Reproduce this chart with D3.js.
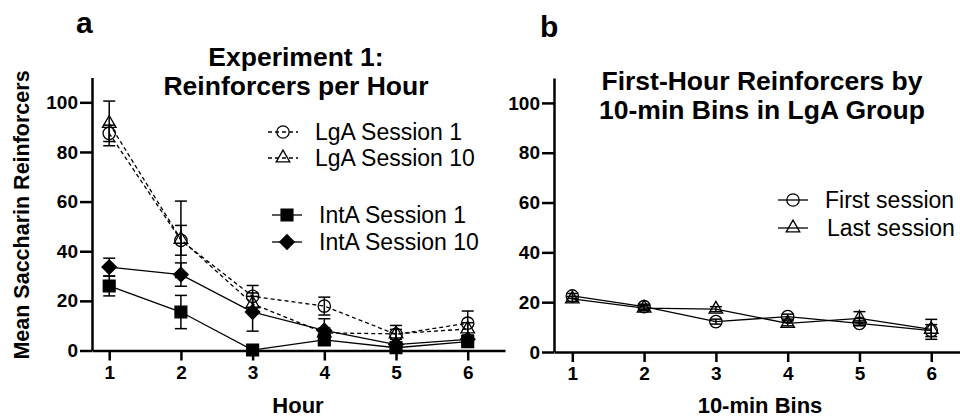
<!DOCTYPE html>
<html>
<head>
<meta charset="utf-8">
<script src="https://cdn.jsdelivr.net/npm/d3@7"></script>
<style>
body { margin: 0; background: #fff; }
text { font-family: "Liberation Sans", Arial, sans-serif; fill: #000; }
</style>
</head>
<body>
<div id="chart"></div>
<script>
var width = 960,
	height = 419;

// panel a: reinforcers per hour
var hours = [1, 2, 3, 4, 5, 6];
var lgaS1 = [87.5, 44.4, 21.8, 17.9, 6.5, 11.0];
var lgaS1Sem = [3.3, 6.0, 4.4, 3.6, 2.0, 4.9];
var lgaS10 = [91.5, 44.8, 18.8, 7.1, 6.7, 8.7];
var lgaS10Sem = [9.0, 15.4, 3.0, 2.0, 3.4, 2.5];
var intaS1 = [26.0, 15.5, 0.2, 4.3, 1.1, 3.6];
var intaS1Sem = [4.0, 6.7, 0.5, 1.5, 1.0, 1.5];
var intaS10 = [33.6, 30.6, 15.5, 8.1, 2.4, 4.5];
var intaS10Sem = [3.6, 4.7, 7.7, 4.7, 1.0, 1.5];

// panel b: first hour by 10-min bins
var bins = [1, 2, 3, 4, 5, 6];
var firstSession = [22.5, 18.2, 12.2, 14.2, 11.5, 8.6];
var firstSem = [1.0, 1.0, 1.0, 1.0, 1.0, 2.4];
var lastSession = [21.3, 17.6, 17.2, 11.5, 13.5, 9.1];
var lastSem = [1.0, 1.0, 1.0, 1.0, 2.7, 4.0];

var yTicks = [0, 20, 40, 60, 80, 100];

var svg = d3.select("#chart").append("svg")
	.attr("width", width)
	.attr("height", height);

var symbols = {
	circle: d3.symbol().type(d3.symbolCircle).size(120),
	square: d3.symbol().type(d3.symbolSquare).size(140),
	diamond: d3.symbol().type(d3.symbolSquare).size(105),
	triangle: d3.symbol().type(d3.symbolTriangle).size(80)
};

function drawPanel(cfg) {
	var x = d3.scaleLinear().domain(cfg.xDomain).range(cfg.xRange);
	var y = d3.scaleLinear().domain([0, 110]).range(cfg.yRange);
	var g = svg.append("g");

	var yAxis = g.append("g")
		.attr("transform", "translate(" + cfg.xRange[0] + ",0)")
		.call(d3.axisLeft(y).tickValues(yTicks).tickSize(12).tickSizeOuter(0).tickPadding(2));
	var xAxis = g.append("g")
		.attr("transform", "translate(0," + cfg.yRange[0] + ")")
		.call(d3.axisBottom(x).tickValues(cfg.xTicks).tickFormat(d3.format("d"))
			.tickSize(10).tickSizeOuter(0).tickPadding(5));
	[yAxis, xAxis].forEach(function(ax) {
		ax.select(".domain").attr("stroke-width", 2.5);
		ax.selectAll(".tick line").attr("stroke-width", 2.5);
		ax.selectAll(".tick text")
			.style("font-size", "19px")
			.style("font-weight", "bold");
	});

	cfg.series.forEach(function(s) {
		var pts = cfg.xTicks.map(function(v, i) { return { x: v, y: s.values[i], e: s.sem[i] }; });
		var line = d3.line().x(function(d) { return x(d.x); }).y(function(d) { return y(d.y); });
		g.append("path")
			.datum(pts)
			.attr("d", line)
			.attr("fill", "none")
			.attr("stroke", "#000")
			.attr("stroke-width", 1.3)
			.attr("stroke-dasharray", s.dashed ? "4,3" : null);

		// error bars
		var eb = g.selectAll(null).data(pts).enter().append("g").attr("stroke", "#000").attr("stroke-width", 1.5);
		eb.append("line")
			.attr("x1", function(d) { return x(d.x); })
			.attr("x2", function(d) { return x(d.x); })
			.attr("y1", function(d) { return y(Math.max(0, d.y - d.e)); })
			.attr("y2", function(d) { return y(d.y + d.e); });
		[1, -1].forEach(function(sign) {
			eb.append("line")
				.attr("x1", function(d) { return x(d.x) - 6; })
				.attr("x2", function(d) { return x(d.x) + 6; })
				.attr("y1", function(d) { return y(Math.max(0, d.y + sign * d.e)); })
				.attr("y2", function(d) { return y(Math.max(0, d.y + sign * d.e)); });
		});

		g.selectAll(null).data(pts).enter().append("path")
			.attr("d", symbols[s.shape])
			.attr("transform", function(d) {
				return "translate(" + x(d.x) + "," + y(d.y) + ")" + (s.shape === "diamond" ? " rotate(45)" : "");
			})
			.attr("fill", s.filled ? "#000" : "none")
			.attr("stroke", "#000")
			.attr("stroke-width", 1.3);
	});

	// legend
	cfg.series.forEach(function(s) {
		var lg = g.append("g").attr("transform", "translate(0," + s.legendY + ")");
		lg.append("line")
			.attr("x1", s.legendX - 15).attr("x2", s.legendX + 15)
			.attr("stroke", "#000").attr("stroke-width", 1.3)
			.attr("stroke-dasharray", s.dashed ? "4,3" : null);
		lg.append("path")
			.attr("d", symbols[s.shape])
			.attr("transform", "translate(" + s.legendX + ",0)" + (s.shape === "diamond" ? " rotate(45)" : ""))
			.attr("fill", s.filled ? "#000" : "none")
			.attr("stroke", "#000")
			.attr("stroke-width", 1.3);
		lg.append("text")
			.attr("x", s.textX)
			.attr("y", 8)
			.style("font-size", "23px")
			.text(s.name);
	});

	// titles
	cfg.title.forEach(function(t, i) {
		g.append("text")
			.attr("x", cfg.titleX)
			.attr("y", cfg.titleY + i * 29)
			.attr("text-anchor", "middle")
			.style("font-size", "26.5px")
			.style("font-weight", "bold")
			.text(t);
	});
	g.append("text")
		.attr("x", cfg.xLabelX)
		.attr("y", 413)
		.attr("text-anchor", "middle")
		.style("font-size", "22px")
		.style("font-weight", "bold")
		.text(cfg.xLabel);
	g.append("text")
		.attr("x", cfg.letterX)
		.attr("y", cfg.letterY)
		.style("font-size", "30px")
		.style("font-weight", "bold")
		.text(cfg.letter);
}

drawPanel({
	xDomain: [0.76, 6.52], xRange: [92, 505], yRange: [350.5, 77.5],
	xTicks: hours,
	series: [
		{ name: "LgA Session 1", values: lgaS1, sem: lgaS1Sem, shape: "circle", filled: false, dashed: true, legendX: 283, legendY: 132, textX: 315 },
		{ name: "LgA Session 10", values: lgaS10, sem: lgaS10Sem, shape: "triangle", filled: false, dashed: true, legendX: 283, legendY: 158, textX: 315 },
		{ name: "IntA Session 1", values: intaS1, sem: intaS1Sem, shape: "square", filled: true, dashed: false, legendX: 287, legendY: 215, textX: 319 },
		{ name: "IntA Session 10", values: intaS10, sem: intaS10Sem, shape: "diamond", filled: true, dashed: false, legendX: 287, legendY: 242, textX: 319 }
	],
	title: ["Experiment 1:", "Reinforcers per Hour"], titleX: 296, titleY: 66,
	xLabel: "Hour", xLabelX: 298,
	letter: "a", letterX: 76, letterY: 33
});

drawPanel({
	xDomain: [0.745, 6.47], xRange: [554, 965], yRange: [352, 78],
	xTicks: bins,
	series: [
		{ name: "First session", values: firstSession, sem: firstSem, shape: "circle", filled: false, dashed: false, legendX: 793, legendY: 200, textX: 825 },
		{ name: "Last session", values: lastSession, sem: lastSem, shape: "triangle", filled: false, dashed: false, legendX: 793, legendY: 228, textX: 827 }
	],
	title: ["First-Hour Reinforcers by", "10-min Bins in LgA Group"], titleX: 762, titleY: 90,
	xLabel: "10-min Bins", xLabelX: 760,
	letter: "b", letterX: 540, letterY: 37
});

// shared y label
svg.append("text")
	.attr("transform", "translate(29,215) rotate(-90)")
	.attr("text-anchor", "middle")
	.style("font-size", "21.5px")
	.style("font-weight", "bold")
	.text("Mean Saccharin Reinforcers");
</script>
</body>
</html>
